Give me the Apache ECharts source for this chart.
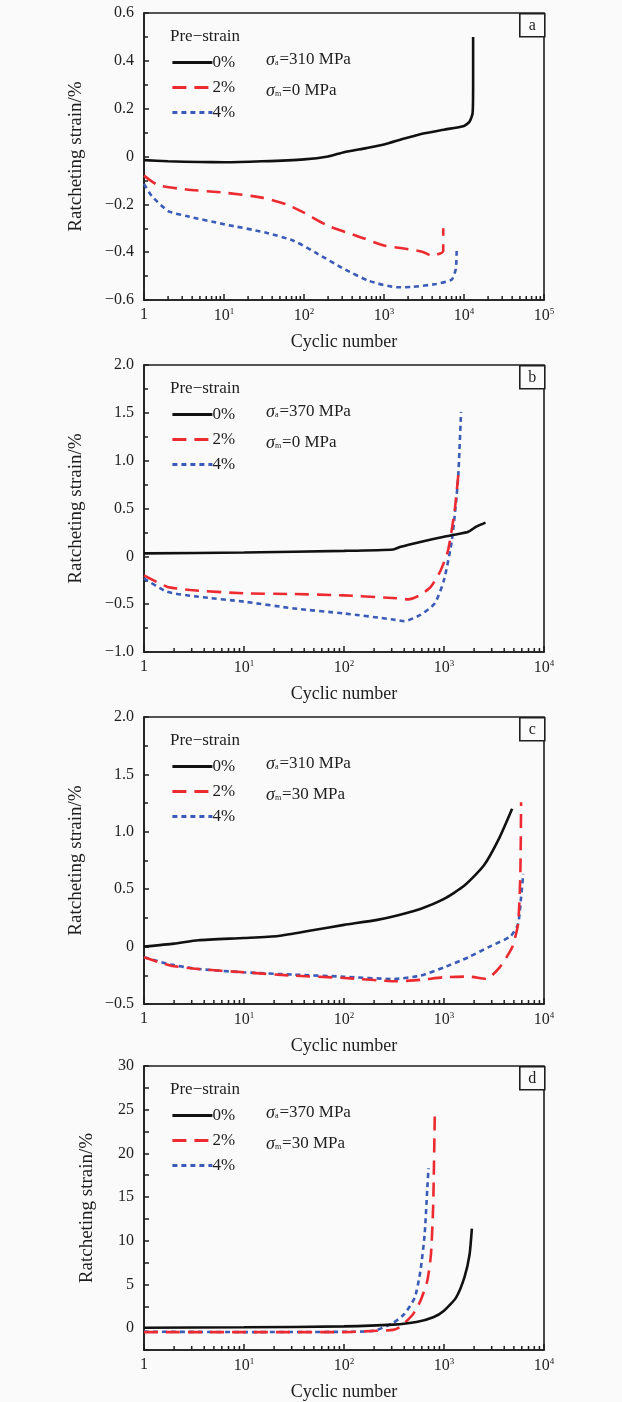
<!DOCTYPE html>
<html>
<head>
<meta charset="utf-8">
<script src="https://cdn.jsdelivr.net/npm/echarts@6/dist/echarts.min.js"></script>
<style>
  html, body { margin: 0; padding: 0; background: #fafafa; }
  #charts { width: 622px; height: 1402px; }
</style>
</head>
<body>
<div id="charts"></div>
<script>
// [cycle, ratcheting strain %]
const strainNames = ['0%', '2%', '4%'];
const panelLetters = ['a', 'b', 'c', 'd'];
const sigmaA = ['310', '370', '310', '370'];
const sigmaM = ['0', '0', '30', '30'];
const xMaxList = [1e5, 1e4, 1e4, 1e4];
const yMinList = [-0.6, -1.0, -0.5, -2.5];
const yMaxList = [0.6, 2.0, 2.0, 30];
const yStepList = [0.2, 0.5, 0.5, 2.5];

const panelA0 = [[1, -0.015], [2, -0.02], [5, -0.023], [10, -0.024], [30, -0.02], [100, -0.012], [200, 0.0], [316, 0.018], [600, 0.035], [1000, 0.05], [1800, 0.075], [3200, 0.097], [5600, 0.112], [10000, 0.128], [11700, 0.145], [12800, 0.18], [13000, 0.3], [13000, 0.5]];
const panelA2 = [[1, -0.08], [1.5, -0.12], [3.4, -0.138], [10, -0.151], [30, -0.172], [60, -0.2], [100, -0.235], [200, -0.29], [460, -0.332], [1000, -0.372], [1800, -0.385], [3000, -0.398], [4000, -0.415], [5500, -0.395], [5500, -0.3]];
const panelA4 = [[1, -0.115], [1.25, -0.165], [2, -0.228], [3.4, -0.249], [10, -0.283], [33, -0.318], [75, -0.353], [150, -0.408], [320, -0.471], [650, -0.52], [1450, -0.547], [2300, -0.545], [4500, -0.533], [7000, -0.515], [7900, -0.47], [8100, -0.395]];

const panelB0 = [[1, 0.031], [10, 0.04], [100, 0.057], [310, 0.072], [370, 0.1], [580, 0.15], [1000, 0.205], [1320, 0.229], [1750, 0.257], [2100, 0.31], [2600, 0.352]];
const panelB2 = [[1, -0.2], [1.7, -0.317], [2.9, -0.352], [10, -0.387], [31, -0.394], [100, -0.408], [340, -0.439], [440, -0.45], [580, -0.404], [740, -0.317], [930, -0.143], [1100, 0.066], [1280, 0.484], [1390, 0.85]];
const panelB4 = [[1, -0.23], [1.7, -0.37], [3.5, -0.422], [10, -0.474], [31, -0.544], [100, -0.597], [310, -0.66], [400, -0.677], [580, -0.613], [810, -0.491], [1000, -0.247], [1200, 0.171], [1380, 0.8], [1480, 1.51]];

const panelC0 = [[1, 0], [2, 0.026], [3.5, 0.055], [10, 0.075], [22, 0.093], [50, 0.145], [100, 0.189], [215, 0.233], [340, 0.271], [580, 0.328], [1000, 0.415], [1600, 0.532], [2500, 0.706], [3600, 0.952], [4800, 1.2]];
const panelC2 = [[1, -0.093], [1.86, -0.166], [3.5, -0.195], [10, -0.224], [31, -0.253], [100, -0.273], [340, -0.302], [580, -0.29], [1000, -0.267], [1750, -0.261], [2650, -0.282], [3600, -0.181], [4800, -0.006], [5500, 0.197], [5800, 0.633], [5900, 1.257]];
const panelC4 = [[1, -0.093], [1.86, -0.157], [3.5, -0.195], [10, -0.224], [31, -0.244], [100, -0.262], [310, -0.282], [580, -0.253], [1000, -0.181], [1750, -0.093], [3000, 0.009], [4600, 0.088], [5500, 0.197], [5900, 0.43], [6200, 0.633]];

const panelD0 = [[1, 0.05], [10, 0.1], [100, 0.2], [310, 0.4], [530, 0.7], [780, 1.25], [1000, 2.0], [1320, 3.5], [1600, 5.8], [1800, 8.4], [1900, 11.4]];
const panelD2 = [[1, -0.45], [10, -0.45], [100, -0.45], [215, -0.3], [310, -0.2], [370, 0.2], [490, 1.6], [580, 3.1], [680, 5.4], [740, 8.4], [780, 14.1], [810, 25]];
const panelD4 = [[1, -0.4], [10, -0.45], [100, -0.42], [200, -0.3], [310, 0.6], [400, 1.6], [510, 3.5], [580, 6.5], [640, 10.7], [680, 15.9], [700, 18.3]];

const panelData = [
    [panelA0, panelA2, panelA4],
    [panelB0, panelB2, panelB4],
    [panelC0, panelC2, panelC4],
    [panelD0, panelD2, panelD4]
];

const FONT = '"Liberation Serif", "DejaVu Serif", serif';
const INK = '#1e1e1e';
const gridTops = [13, 365, 717, 1066];
const gridLeft = 144;
const gridWidth = 400;
const gridHeight = 287;

const lineStyles = [
    {color: '#111111', width: 2.6, type: 'solid'},
    {color: '#ec2a30', width: 2.6, type: [14, 8]},
    {color: '#3a5cb8', width: 2.6, type: [5, 4]}
];

var chartDom = document.getElementById('charts');
var myChart = echarts.init(chartDom);

const fmtY = (panel) => v => {
    if (Math.abs(v) < 1e-9) return '0';
    if (panel === 3) {
        return Number.isInteger(v) && v % 5 === 0 ? String(v) : '';
    }
    return (v < 0 ? '\u2212' : '') + Math.abs(v).toFixed(1);
};

const fmtX = v => {
    const e = Math.round(Math.log10(v));
    return e === 0 ? '1' : '10{sup|' + e + '}';
};

const minorTickValues = xMax => {
    let list = [];
    for (let d = 1; d < xMax; d *= 10) {
        for (let k = 2; k <= 9; k++) list.push(k * d);
    }
    return list;
};

const sigmaRich = {
    i: {fontFamily: FONT, fontSize: 18, fontStyle: 'italic', fill: INK},
    s: {fontFamily: FONT, fontSize: 8, fill: INK, padding: [6, 1, 0, 0]}
};

let grids = [], xAxes = [], yAxes = [], series = [], legends = [], graphics = [];

panelLetters.forEach((letter, i) => {
    const top = gridTops[i];
    grids.push({
        left: gridLeft, top: top, width: gridWidth, height: gridHeight,
        show: true, borderColor: INK, borderWidth: 1.6, backgroundColor: 'transparent'
    });
    xAxes.push({
        gridIndex: i, type: 'log', logBase: 10, min: 1, max: xMaxList[i],
        name: 'Cyclic number', nameLocation: 'middle', nameGap: 33,
        nameTextStyle: {fontFamily: FONT, fontSize: 18, color: INK},
        axisLine: {show: true, onZero: false, lineStyle: {color: INK, width: 1.6}},
        axisTick: {show: true, inside: true, length: 6, lineStyle: {color: INK, width: 1.5}},
        axisLabel: {
            formatter: fmtX, fontFamily: FONT, fontSize: 16, color: INK, margin: 7,
            rich: {sup: {fontFamily: FONT, fontSize: 9, color: INK, padding: [0, 0, 8, 0]}}
        },
        splitLine: {show: false}
    });
    yAxes.push({
        gridIndex: i, type: 'value', min: yMinList[i], max: yMaxList[i],
        interval: yStepList[i],
        name: 'Ratcheting strain/%', nameLocation: 'middle', nameGap: i === 3 ? 47 : 58,
        nameTextStyle: {fontFamily: FONT, fontSize: 19, color: INK},
        axisLine: {show: true, onZero: false, lineStyle: {color: INK, width: 1.6}},
        axisTick: {show: true, inside: true, length: 5, lineStyle: {color: INK, width: 1.5}},
        minorTick: {show: i !== 3, splitNumber: 2, length: 4, lineStyle: {color: INK, width: 1.5}},
        axisLabel: {formatter: fmtY(i), fontFamily: FONT, fontSize: 16, color: INK, margin: 10},
        splitLine: {show: false}
    });

    panelData[i].forEach((data, k) => {
        series.push({
            name: strainNames[k], type: 'line', xAxisIndex: i, yAxisIndex: i,
            data: data, symbol: 'none', smooth: 0.2, clip: true,
            lineStyle: lineStyles[k], itemStyle: {color: lineStyles[k].color},
            z: 5 - k
        });
    });

    // minor decade ticks (2..9) on the log axis
    series.push({
        type: 'custom', xAxisIndex: i, yAxisIndex: i, silent: true, z: 1,
        data: minorTickValues(xMaxList[i]).map(v => [v, yMinList[i]]),
        renderItem: (params, api) => {
            const p = api.coord([api.value(0), api.value(1)]);
            return {
                type: 'line',
                shape: {x1: p[0], y1: p[1], x2: p[0], y2: p[1] - 4},
                style: {stroke: INK, lineWidth: 1.5}
            };
        }
    });

    legends.push({
        data: strainNames, orient: 'vertical', left: 171, top: top + 41,
        itemWidth: 40, itemHeight: 14, itemGap: 8, padding: 0,
        selectedMode: false,
        itemStyle: {opacity: 0},
        lineStyle: {width: 2.8},
        textStyle: {fontFamily: FONT, fontSize: 17, color: INK, padding: [0, 0, 0, -5]}
    });

    graphics.push({
        type: 'text', left: 170, top: top + 15,
        style: {text: 'Pre\u2212strain', fontFamily: FONT, fontSize: 17, fill: INK}
    });
    graphics.push({
        type: 'text', left: 266, top: top + 38,
        style: {
            text: '{i|\u03c3}{s|a}=' + sigmaA[i] + ' MPa',
            fontFamily: FONT, fontSize: 17, fill: INK, rich: sigmaRich
        }
    });
    graphics.push({
        type: 'text', left: 266, top: top + 69,
        style: {
            text: '{i|\u03c3}{s|m}=' + sigmaM[i] + ' MPa',
            fontFamily: FONT, fontSize: 17, fill: INK, rich: sigmaRich
        }
    });
    graphics.push({
        type: 'group', left: gridLeft + gridWidth - 25, top: top,
        children: [
            {type: 'rect', shape: {x: 0, y: 0, width: 25, height: 23},
             style: {fill: '#fafafa', stroke: INK, lineWidth: 1.6}},
            {type: 'text', x: 12.5, y: 11.5,
             style: {text: letter, fontFamily: FONT, fontSize: 16, fill: INK, align: 'center', verticalAlign: 'middle'}}
        ]
    });
});

const option = {
    backgroundColor: '#fafafa',
    animation: false,
    grid: grids,
    xAxis: xAxes,
    yAxis: yAxes,
    legend: legends,
    series: series,
    graphic: graphics
};
myChart.setOption(option);
</script>
</body>
</html>
